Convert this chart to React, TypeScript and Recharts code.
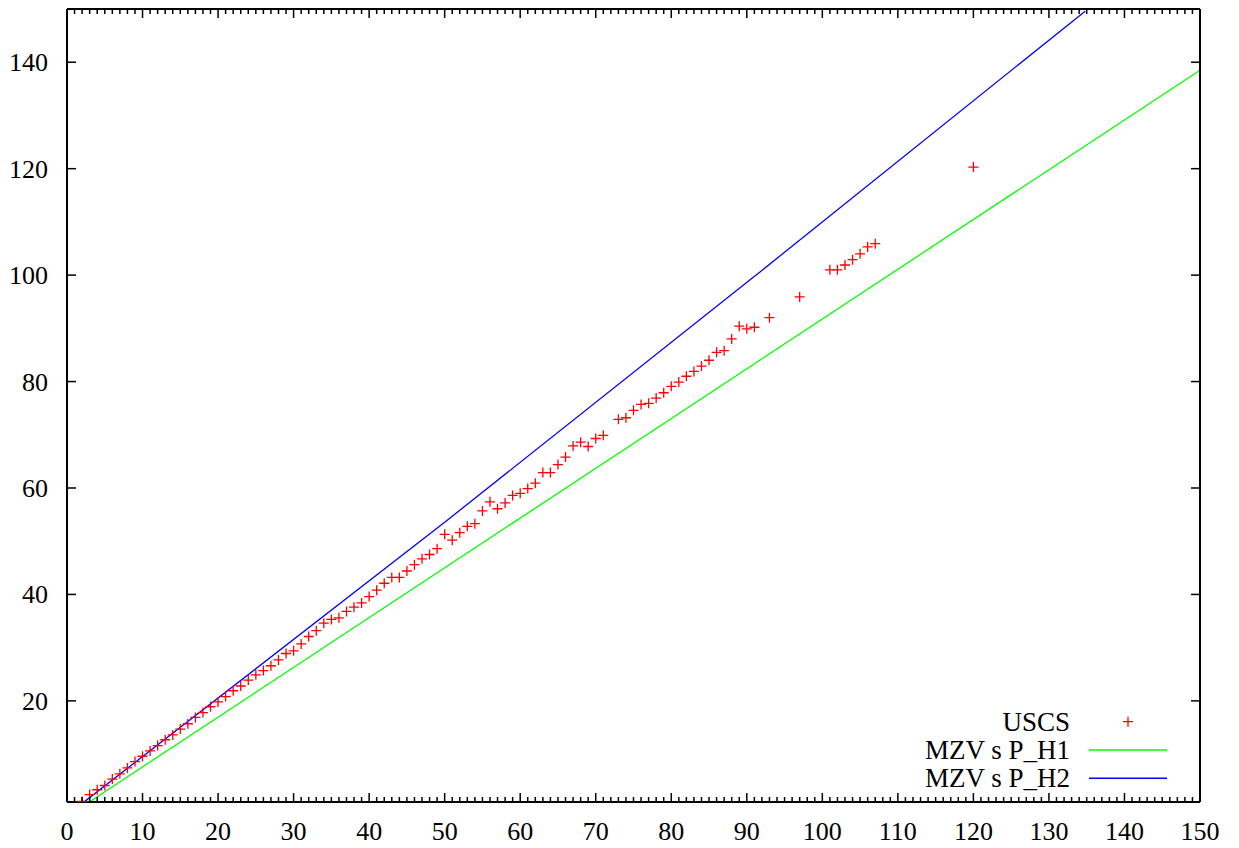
import React from 'react';
import { ComposedChart, Scatter, Line, XAxis, YAxis, Legend } from 'recharts';

// USCS points
const uscsX = [
  2, 3, 4, 5, 6, 7, 8, 9, 10, 11, 12, 13, 14, 15, 16, 17, 18, 19, 20, 21,
  22, 23, 24, 25, 26, 27, 28, 29, 30, 31, 32, 33, 34, 35, 36, 37, 38, 39, 40, 41,
  42, 43, 44, 45, 46, 47, 48, 49, 50, 51, 52, 53, 54, 55, 56, 57, 58, 59, 60, 61,
  62, 63, 64, 65, 66, 67, 68, 69, 70, 71, 73, 74, 75, 76, 77, 78, 79, 80, 81, 82,
  83, 84, 85, 86, 87, 88, 89, 90, 91, 93, 97, 101, 102, 103, 104, 105, 106, 107, 120,
];
const uscsY = [
  1.1, 2.4, 3.3, 4.1, 5.3, 6.3, 7.4, 8.6, 9.6, 10.6, 11.6, 12.7, 13.6, 14.7, 15.7, 16.9, 17.8, 18.9, 19.8, 20.8,
  21.9, 22.8, 23.9, 24.9, 25.7, 26.6, 27.7, 28.9, 29.4, 30.7, 32.1, 33.2, 34.6, 35.3, 35.6, 36.8, 37.6, 38.4, 39.6, 40.8,
  42.1, 43.2, 43.2, 44.4, 45.6, 46.7, 47.5, 48.6, 51.3, 50.2, 51.6, 52.8, 53.3, 55.7, 57.4, 56.1, 57.2, 58.6, 59.0, 59.9,
  60.9, 62.9, 62.9, 64.4, 65.8, 67.9, 68.6, 67.8, 69.3, 69.9, 72.9, 73.2, 74.6, 75.7, 75.9, 76.9, 77.9, 79.1, 79.9, 81.0,
  81.9, 82.9, 84.0, 85.5, 85.8, 88.0, 90.4, 89.9, 90.2, 92.0, 95.9, 101.0, 101.0, 101.9, 102.9, 104.0, 105.3, 105.9, 120.3,
];

// model curves
const h1X = [2.95, 150];
const h1Y = [1.0, 138.5];
const h2X = [2.25, 50.3, 91.75, 134.8];
const h2Y = [1.0, 53.9, 100.6, 149.6];

const xLabelEvery = 10;
const xTicks = Array.from({ length: 151 }, (_, i) => i); // minor every 1, labelled every 10
const yMajorTicks = [20, 40, 60, 80, 100, 120, 140];

const legendItems = [
  { name: 'USCS', color: '#ff0000', kind: 'point' },
  { name: 'MZV s P_H1', color: '#00ff00', kind: 'line' },
  { name: 'MZV s P_H2', color: '#0000ff', kind: 'line' },
];

const uscsData = uscsX.map((x, i) => ({ x, y: uscsY[i] }));
const h1Data = h1X.map((x, i) => ({ x, y: h1Y[i] }));
const h2Data = h2X.map((x, i) => ({ x, y: h2Y[i] }));

const FONT = '"Liberation Serif", "Times New Roman", serif';

const PlusShape = (props: any) => {
  const { cx, cy } = props;
  if (cx == null || cy == null) return null;
  return (
    <path
      d={`M${cx - 5},${cy}H${cx + 5}M${cx},${cy - 5}V${cy + 5}`}
      stroke="#ff0000"
      strokeWidth={1.3}
      fill="none"
    />
  );
};

const BottomTick = (props: any) => {
  const { x, y, payload } = props;
  const major = payload.value % xLabelEvery === 0;
  return (
    <g>
      <line x1={x} y1={y} x2={x} y2={y - (major ? 9 : 5)} stroke="#000" strokeWidth={1.5} />
      {major && (
        <text x={x} y={y + 38} textAnchor="middle" style={{ fontFamily: FONT }} fontSize={26} fill="#000">
          {payload.value}
        </text>
      )}
    </g>
  );
};

const TopTick = (props: any) => {
  const { x, y, payload } = props;
  const major = payload.value % xLabelEvery === 0;
  return <line x1={x} y1={y} x2={x} y2={y + (major ? 9 : 5)} stroke="#000" strokeWidth={1.5} />;
};

const LeftTick = (props: any) => {
  const { x, y, payload } = props;
  return (
    <g>
      <line x1={x} y1={y} x2={x + 9} y2={y} stroke="#000" strokeWidth={1.5} />
      <text x={x - 19} y={y + 9} textAnchor="end" style={{ fontFamily: FONT }} fontSize={26} fill="#000">
        {payload.value}
      </text>
    </g>
  );
};

const RightTick = (props: any) => {
  const { x, y } = props;
  return <line x1={x} y1={y} x2={x - 9} y2={y} stroke="#000" strokeWidth={1.5} />;
};

const KeyBox = () => (
  <svg width={320} height={95}>
    {legendItems.map((item, i) => {
      const cy = 21.7 + i * 28.3;
      return (
        <g key={item.name}>
          <text x={210} y={cy + 9} textAnchor="end" style={{ fontFamily: FONT }} fontSize={27} fill="#000">
            {item.name}
          </text>
          {item.kind === 'point' ? (
            <path d={`M${263},${cy}H${273}M${268},${cy - 5}V${cy + 5}`} stroke={item.color} strokeWidth={1.3} />
          ) : (
            <line x1={229} y1={cy} x2={307} y2={cy} stroke={item.color} strokeWidth={1.5} />
          )}
        </g>
      );
    })}
  </svg>
);

const axisStroke = { stroke: '#000', strokeWidth: 2 };

export default function App() {
  return (
    <div style={{ position: 'absolute', left: 0, top: 0, background: '#fff', fontFamily: FONT }}>
      <ComposedChart
        width={1239}
        height={848}
        margin={{ top: 0, right: 0, bottom: 0, left: 0 }}
        style={{ fontFamily: FONT }}
      >
        <XAxis
          dataKey="x"
          type="number"
          domain={[0, 150]}
          ticks={xTicks}
          interval={0}
          height={46}
          tickSize={0}
          tickMargin={0}
          tick={<BottomTick />}
          axisLine={axisStroke}
          allowDataOverflow
        />
        <XAxis
          xAxisId="top"
          orientation="top"
          dataKey="x"
          type="number"
          domain={[0, 150]}
          ticks={xTicks}
          interval={0}
          height={9}
          tickSize={0}
          tickMargin={0}
          tick={<TopTick />}
          axisLine={axisStroke}
          allowDataOverflow
        />
        <YAxis
          type="number"
          domain={[1, 150]}
          ticks={yMajorTicks}
          interval={0}
          width={67}
          tickSize={0}
          tickMargin={0}
          tick={<LeftTick />}
          axisLine={axisStroke}
          allowDataOverflow
        />
        <YAxis
          yAxisId="right"
          orientation="right"
          type="number"
          domain={[1, 150]}
          ticks={yMajorTicks}
          interval={0}
          width={39}
          tickSize={0}
          tickMargin={0}
          tick={<RightTick />}
          axisLine={axisStroke}
          allowDataOverflow
        />
        <Legend
          layout="horizontal"
          verticalAlign="middle"
          align="center"
          content={() => <KeyBox />}
          wrapperStyle={{ left: 860, top: 700, width: 320, height: 95 }}
        />
        <Line
          data={h1Data}
          dataKey="y"
          name="MZV s P_H1"
          type="linear"
          stroke="#00ff00"
          strokeWidth={1.3}
          dot={false}
          activeDot={false}
          isAnimationActive={false}
        />
        <Line
          data={h2Data}
          dataKey="y"
          name="MZV s P_H2"
          type="monotone"
          stroke="#0000ff"
          strokeWidth={1.3}
          dot={false}
          activeDot={false}
          isAnimationActive={false}
        />
        <Scatter
          data={uscsData}
          dataKey="y"
          name="USCS"
          fill="#ff0000"
          shape={PlusShape}
          isAnimationActive={false}
        />
      </ComposedChart>
    </div>
  );
}
